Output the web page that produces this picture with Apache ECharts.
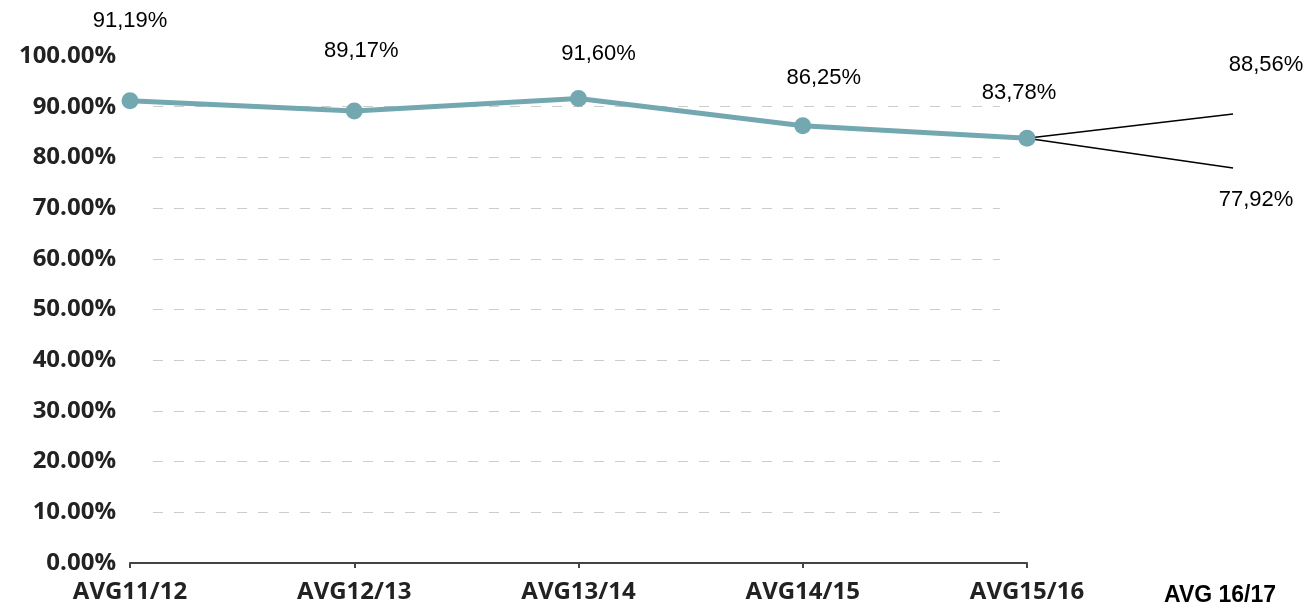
<!DOCTYPE html>
<html>
<head>
<meta charset="utf-8">
<script src="https://cdn.jsdelivr.net/npm/echarts@6/dist/echarts.min.js"></script>
<style>html,body{margin:0;padding:0;background:#fff}#c{width:1306px;height:607px}</style>
</head>
<body>
<div id="c"></div>
<script>
const categories = ['AVG11/12', 'AVG12/13', 'AVG13/14', 'AVG14/15', 'AVG15/16'];
const values = [91.19, 89.17, 91.60, 86.25, 83.78];
const valueLabels = ['91,19%', '89,17%', '91,60%', '86,25%', '83,78%'];
const forecastCategory = 'AVG 16/17';
const forecastHigh = 88.56;
const forecastLow = 77.92;
const forecastLabels = ['88,56%', '77,92%'];
const yTicks = [0, 10, 20, 30, 40, 50, 60, 70, 80, 90, 100];

// label placement (style only)
const labelOffsets = [[0, -80], [7, -60], [20, -45], [21, -48], [-8, -45]];
const forecastX = 4.92;

const chart = echarts.init(document.getElementById('c'));
const lineColor = '#74a8b0';
const gridColors = yTicks.map((t, i) => (i === 0 || i === yTicks.length - 1 ? 'rgba(0,0,0,0)' : '#cccccc'));
const labelFont = { color: '#000', fontFamily: 'Liberation Sans, Arial, sans-serif', fontSize: 22 };
const axisFont = { color: '#222', fontFamily: 'Open Sans, sans-serif', fontWeight: 'bold', fontSize: 24 };

chart.setOption({
  animation: false,
  backgroundColor: '#ffffff',
  title: {
    text: forecastCategory,
    left: 1159, top: 579,
    textStyle: { fontFamily: 'Liberation Sans, Arial, sans-serif', fontWeight: 'bold', fontSize: 23, color: '#000' }
  },
  grid: [
    { left: 130, right: 279, top: 56, bottom: 44 },
    { left: 130, right: 55, top: 56, bottom: 44 },
    { left: 153, right: 306, top: 56, bottom: 44 }
  ],
  xAxis: [{
    type: 'category',
    gridIndex: 0,
    data: categories,
    boundaryGap: false,
    axisLine: { lineStyle: { color: '#444', width: 2 } },
    axisTick: { show: true, length: 5, lineStyle: { color: '#444', width: 2 } },
    axisLabel: Object.assign({ margin: 17 }, axisFont),
    splitLine: { show: false }
  }, {
    type: 'value', gridIndex: 1, min: 0, max: 5, show: false
  }, {
    type: 'value', gridIndex: 2, min: 0, max: 1, show: false
  }],
  yAxis: [{
    type: 'value', gridIndex: 0, min: 0, max: 100, interval: 10,
    axisLine: { show: false },
    axisTick: { show: false },
    axisLabel: Object.assign({ margin: 14, formatter: v => v.toFixed(2) + '%' }, axisFont),
    splitLine: { show: false }
  }, {
    type: 'value', gridIndex: 1, min: 0, max: 100, show: false
  }, {
    type: 'value', gridIndex: 2, min: 0, max: 100, interval: 10,
    axisLine: { show: false }, axisTick: { show: false }, axisLabel: { show: false },
    splitLine: { show: true, lineStyle: { type: [10, 11], color: gridColors, width: 1 } }
  }],
  series: [{
    type: 'line',
    xAxisIndex: 1, yAxisIndex: 1,
    silent: true,
    symbol: 'none',
    lineStyle: { color: '#000', width: 1.6 },
    data: [[forecastX, forecastHigh], [4, values[4]], [forecastX, forecastLow]],
    z: 1
  }, {
    type: 'scatter',
    xAxisIndex: 1, yAxisIndex: 1,
    symbolSize: 0,
    itemStyle: { opacity: 1 },
    data: [
      { value: [forecastX, forecastHigh], label: { show: true, position: 'inside', offset: [33, -49], formatter: forecastLabels[0] } },
      { value: [forecastX, forecastLow], label: { show: true, position: 'inside', offset: [23, 32], formatter: forecastLabels[1] } }
    ],
    label: labelFont
  }, {
    type: 'line',
    xAxisIndex: 0, yAxisIndex: 0,
    data: values.map((v, i) => ({
      value: v,
      label: { show: true, position: 'inside', offset: labelOffsets[i], formatter: valueLabels[i] }
    })),
    symbol: 'circle',
    symbolSize: 17,
    itemStyle: { color: lineColor },
    lineStyle: { color: lineColor, width: 5 },
    label: labelFont,
    z: 3
  }]
});
</script>
</body>
</html>
